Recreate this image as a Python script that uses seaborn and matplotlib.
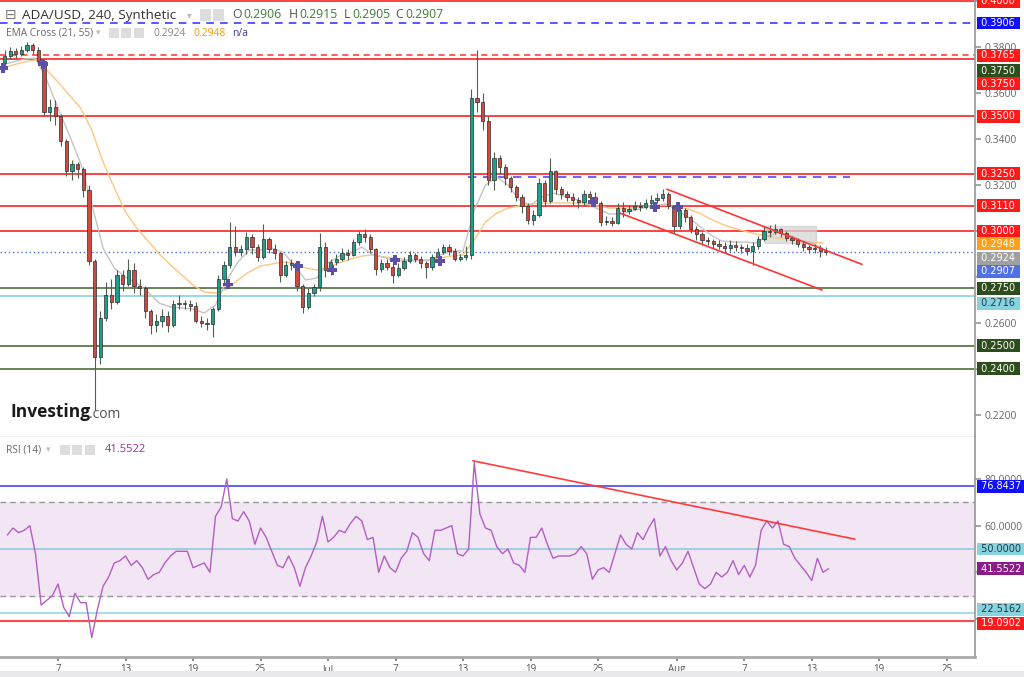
import matplotlib
matplotlib.use("Agg")
import matplotlib.pyplot as plt
import matplotlib.dates as mdates
from matplotlib.patches import Rectangle
import numpy as np
import pandas as pd
import seaborn as sns

sns.set_theme(style="white")
plt.rcParams["font.family"] = ["Open Sans", "DejaVu Sans"]

# ADA/USD, 12h bars, Jun 2 - Aug 14 2023
first_open = 0.3730
close = [
    0.3760, 0.3785, 0.3770, 0.3790, 0.3810, 0.3790, 0.3740, 0.3520, 0.3540, 0.3500, 0.3390, 0.3260, 0.3290, 0.3270,  # Jun 2-8
    0.3180, 0.2870, 0.2450, 0.2620, 0.2720, 0.2690, 0.2810, 0.2770, 0.2830, 0.2760, 0.2750, 0.2650, 0.2590, 0.2610,  # Jun 9-15
    0.2630, 0.2590, 0.2680, 0.2685, 0.2680, 0.2675, 0.2610, 0.2600, 0.2595, 0.2660, 0.2790, 0.2850, 0.2930, 0.2910,  # Jun 16-22
    0.2920, 0.2975, 0.2930, 0.2885, 0.2965, 0.2920, 0.2905, 0.2810, 0.2850, 0.2860, 0.2760, 0.2670, 0.2730, 0.2755,  # Jun 23-29
    0.2930, 0.2830, 0.2865, 0.2880, 0.2905, 0.2895, 0.2950, 0.2985, 0.2975, 0.2920, 0.2835, 0.2860, 0.2845, 0.2810,  # Jun 30-Jul 6
    0.2840, 0.2870, 0.2895, 0.2880, 0.2860, 0.2845, 0.2885, 0.2910, 0.2930, 0.2915, 0.2880, 0.2885, 0.2895, 0.3580,  # Jul 7-13
    0.3560, 0.3480, 0.3220, 0.3320, 0.3280, 0.3230, 0.3190, 0.3150, 0.3110, 0.3050, 0.3070, 0.3210, 0.3130, 0.3260,  # Jul 14-20
    0.3185, 0.3160, 0.3150, 0.3135, 0.3125, 0.3160, 0.3150, 0.3120, 0.3040, 0.3045, 0.3035, 0.3100, 0.3085, 0.3095,  # Jul 21-27
    0.3110, 0.3105, 0.3120, 0.3135, 0.3145, 0.3160, 0.3110, 0.3020, 0.3090, 0.3060, 0.3010, 0.2985, 0.2960, 0.2955,  # Jul 28-Aug 3
    0.2945, 0.2935, 0.2925, 0.2940, 0.2930, 0.2925, 0.2915, 0.2935, 0.2965, 0.3000, 0.2995, 0.3010, 0.2990, 0.2970,  # Aug 4-10
    0.2960, 0.2945, 0.2930, 0.2920, 0.2925, 0.2915, 0.2907,                                                          # Aug 11-14
]
high = [
    0.3790, 0.3800, 0.3795, 0.3805, 0.3825, 0.3820, 0.3800, 0.3750, 0.3575, 0.3570, 0.3510, 0.3400, 0.3310, 0.3300,
    0.3280, 0.3200, 0.2880, 0.2650, 0.2780, 0.2790, 0.2830, 0.2830, 0.2880, 0.2860, 0.2790, 0.2760, 0.2660, 0.2640,
    0.2660, 0.2650, 0.2700, 0.2720, 0.2700, 0.2700, 0.2690, 0.2630, 0.2620, 0.2670, 0.2810, 0.2870, 0.3040, 0.3020,
    0.2940, 0.2995, 0.2985, 0.2945, 0.3030, 0.2975, 0.2945, 0.2910, 0.2870, 0.2880, 0.2870, 0.2770, 0.2750, 0.2770,
    0.2990, 0.2950, 0.2880, 0.2900, 0.2925, 0.2920, 0.2965, 0.3000, 0.3010, 0.2985, 0.2925, 0.2880, 0.2880, 0.2875,
    0.2860, 0.2885, 0.2915, 0.2905, 0.2890, 0.2870, 0.2900, 0.2925, 0.2945, 0.2945, 0.2925, 0.2900, 0.2935, 0.3620,
    0.3790, 0.3600, 0.3500, 0.3345, 0.3330, 0.3290, 0.3240, 0.3200, 0.3160, 0.3120, 0.3090, 0.3230, 0.3220, 0.3317,
    0.3265, 0.3195, 0.3175, 0.3165, 0.3150, 0.3180, 0.3175, 0.3170, 0.3130, 0.3065, 0.3060, 0.3120, 0.3125, 0.3115,
    0.3130, 0.3125, 0.3140, 0.3155, 0.3165, 0.3185, 0.3170, 0.3115, 0.3110, 0.3100, 0.3070, 0.3020, 0.2995, 0.2975,
    0.2965, 0.2960, 0.2950, 0.2960, 0.2955, 0.2945, 0.2945, 0.2950, 0.2980, 0.3020, 0.3025, 0.3030, 0.3015, 0.3000,
    0.2980, 0.2970, 0.2955, 0.2940, 0.2945, 0.2940, 0.2930,
]
low = [
    0.3720, 0.3750, 0.3755, 0.3760, 0.3780, 0.3770, 0.3725, 0.3500, 0.3480, 0.3460, 0.3370, 0.3240, 0.3220, 0.3230,
    0.3150, 0.2850, 0.2220, 0.2420, 0.2610, 0.2660, 0.2680, 0.2740, 0.2760, 0.2730, 0.2720, 0.2620, 0.2550, 0.2560,
    0.2580, 0.2560, 0.2580, 0.2660, 0.2660, 0.2650, 0.2600, 0.2580, 0.2570, 0.2540, 0.2650, 0.2770, 0.2840, 0.2890,
    0.2890, 0.2900, 0.2900, 0.2870, 0.2880, 0.2905, 0.2880, 0.2780, 0.2800, 0.2830, 0.2740, 0.2645, 0.2660, 0.2715,
    0.2740, 0.2800, 0.2810, 0.2850, 0.2870, 0.2875, 0.2890, 0.2940, 0.2950, 0.2905, 0.2810, 0.2820, 0.2830, 0.2775,
    0.2800, 0.2830, 0.2860, 0.2865, 0.2840, 0.2795, 0.2830, 0.2880, 0.2900, 0.2895, 0.2870, 0.2870, 0.2875, 0.2880,
    0.3520, 0.3440, 0.3200, 0.3180, 0.3250, 0.3200, 0.3170, 0.3130, 0.3080, 0.3030, 0.3025, 0.3060, 0.3110, 0.3120,
    0.3160, 0.3140, 0.3130, 0.3115, 0.3100, 0.3110, 0.3130, 0.3110, 0.3020, 0.3025, 0.3020, 0.3030, 0.3060, 0.3075,
    0.3090, 0.3085, 0.3095, 0.3105, 0.3120, 0.3130, 0.3095, 0.2990, 0.3010, 0.3040, 0.2990, 0.2960, 0.2945, 0.2940,
    0.2925, 0.2920, 0.2910, 0.2915, 0.2915, 0.2905, 0.2895, 0.2852, 0.2920, 0.2955, 0.2975, 0.2985, 0.2975, 0.2955,
    0.2945, 0.2930, 0.2915, 0.2905, 0.2905, 0.2885, 0.2895,
]

# RSI(14), one reading per 12h bar close
rsi = [
    56, 59, 57, 58, 60, 48, 26, 28, 30, 35, 25, 21, 31, 27,
    27, 12, 24, 34, 38, 44, 45, 47, 43, 45, 42, 37, 39, 40,
    44, 47, 49, 49, 49, 42, 43, 44, 40, 64, 68, 80, 63, 62,
    66, 62, 52, 59, 55, 49, 43, 42, 47, 42, 34, 42, 47, 53,
    64, 53, 55, 58, 57, 61, 64, 62, 54, 55, 40, 47, 42, 40,
    46, 49, 57, 55, 48, 45, 58, 58, 59, 60, 48, 47, 50, 87,
    65, 59, 58, 51, 48, 50, 44, 43, 40, 55, 55, 59, 52, 46,
    47, 47, 47, 48, 51, 48, 37, 41, 42, 40, 48, 56, 52, 50,
    57, 54, 59, 63, 47, 51, 45, 41, 44, 49, 42, 35, 33, 35,
    40, 38, 40, 45, 39, 43, 38, 43, 58, 62, 59, 62, 52, 51,
    46, 43, 40, 36.5, 46, 40, 41.5522,
]

# EMA cross (21, 55), daily readings Jun 2 - Aug 14
ema_fast = [
    0.3723, 0.3736, 0.3749, 0.3753, 0.3657, 0.3536, 0.3418, 0.3296, 0.3117, 0.2926,
    0.2839, 0.2799, 0.2773, 0.2734, 0.2686, 0.2669, 0.2665, 0.2660, 0.2643, 0.2678,
    0.2787, 0.2865, 0.2917, 0.2917, 0.2926, 0.2908, 0.2852, 0.2787, 0.2795, 0.2861,
    0.2891, 0.2904, 0.2930, 0.2896, 0.2885, 0.2868, 0.2872, 0.2870, 0.2872, 0.2896,
    0.2913, 0.2913, 0.3091, 0.3200, 0.3235, 0.3200, 0.3135, 0.3113, 0.3148, 0.3165,
    0.3152, 0.3139, 0.3118, 0.3096, 0.3074, 0.3074, 0.3087, 0.3100, 0.3109, 0.3118,
    0.3091, 0.3061, 0.3022, 0.2983, 0.2957, 0.2952, 0.2952, 0.2948, 0.2978, 0.2991,
    0.2983, 0.2961, 0.2948, 0.2924,
]
ema_slow = [
    0.3709, 0.3723, 0.3736, 0.3745, 0.3701, 0.3649, 0.3592, 0.3536, 0.3440, 0.3301,
    0.3188, 0.3083, 0.3013, 0.2957, 0.2900, 0.2852, 0.2808, 0.2765, 0.2734, 0.2730,
    0.2747, 0.2787, 0.2822, 0.2848, 0.2856, 0.2865, 0.2861, 0.2839, 0.2830, 0.2843,
    0.2861, 0.2878, 0.2891, 0.2896, 0.2887, 0.2883, 0.2874, 0.2874, 0.2874, 0.2883,
    0.2891, 0.2896, 0.2961, 0.3039, 0.3078, 0.3100, 0.3109, 0.3117, 0.3122, 0.3122,
    0.3122, 0.3122, 0.3117, 0.3109, 0.3100, 0.3100, 0.3100, 0.3104, 0.3113, 0.3113,
    0.3104, 0.3096, 0.3078, 0.3052, 0.3030, 0.3013, 0.3000, 0.2987, 0.2978, 0.2970,
    0.2961, 0.2957, 0.2952, 0.2948,
]
cross_time = ["2023-06-02 03:00", "2023-06-05 16:00", "2023-06-22 03:00", "2023-06-28 08:00",
              "2023-07-01 09:00", "2023-07-06 23:00", "2023-07-10 23:00", "2023-07-24 13:00",
              "2023-07-30 02:00", "2023-08-01 03:00"]
cross_price = [0.3710, 0.3727, 0.2768, 0.2847, 0.2830, 0.2873, 0.2869, 0.3126, 0.3104, 0.3104]

# horizontal levels drawn on the chart
red_levels = [0.4000, 0.3750, 0.3500, 0.3250, 0.3110, 0.3000]
green_levels = [0.2750, 0.2500, 0.2400]
cyan_level = 0.2716
blue_dash_level = 0.3906
red_dash_level = 0.3765
last_price = 0.2907
mid_dash = [0.3236, "2023-07-13 10:00", "2023-08-16 10:00"]

# drawings: channel, rsi trend line, box
chan_up_t = ["2023-07-31 03:00", "2023-08-17 11:00"]
chan_up_p = [0.3182, 0.2855]
chan_dn_t = ["2023-07-26 23:00", "2023-08-13 22:00"]
chan_dn_p = [0.3078, 0.2743]
rsi_tl_t = ["2023-07-13 21:00", "2023-08-16 20:00"]
rsi_tl_v = [87.8, 54.2]
box_t = ["2023-08-08 20:00", "2023-08-13 09:00"]
box_p = [0.2947, 0.3021]

rsi_levels = [76.8437, 50.0, 22.5162, 19.0902]

tick_dates = ["2023-06-07", "2023-06-13", "2023-06-19", "2023-06-25", "2023-07-01", "2023-07-07",
              "2023-07-13", "2023-07-19", "2023-07-25", "2023-08-01", "2023-08-07", "2023-08-13",
              "2023-08-19", "2023-08-25"]
tick_labels = ["7", "13", "19", "25", "Jul", "7", "13", "19", "25", "Aug", "7", "13", "19", "25"]
price_ticks = [0.22, 0.24, 0.26, 0.28, 0.30, 0.32, 0.34, 0.36, 0.38, 0.40]
price_tick_text = ["0.2200", "", "0.2600", "", "", "0.3200", "0.3400", "0.3600", "0.3800", ""]
rsi_ticks = [20, 40, 60, 80]
rsi_tick_text = ["", "", "60.0000", "80.0000"]

# ---------- prepare ----------
assert len(close) == len(high) == len(low) == len(rsi)
close = np.array(close)
high = np.array(high)
low = np.array(low)
opens = np.r_[first_open, close[:-1]]

bar_start = pd.date_range("2023-06-02", periods=len(close), freq="12h")
x_bar = mdates.date2num(bar_start + pd.Timedelta(hours=6))
x_rsi = mdates.date2num(bar_start + pd.Timedelta(hours=12))
x_ema = mdates.date2num(pd.date_range("2023-06-02", periods=len(ema_fast), freq="D"))
d = lambda s: mdates.date2num(pd.Timestamp(s))

ema_df = pd.DataFrame({"x": x_ema, "fast": ema_fast, "slow": ema_slow})
rsi_df = pd.DataFrame({"x": x_rsi, "rsi": rsi})

x0 = d("2023-06-01 20:15")
x1 = d("2023-08-27 12:15")

W, H = 1024, 677
fx = lambda px: px / W
fy = lambda py: 1 - py / H

fig = plt.figure(figsize=(10.24, 6.77), dpi=100)
ax = fig.add_axes([0, fy(437), fx(975), 437 / H])
ax2 = fig.add_axes([0, fy(657), fx(975), 220 / H])

# ---------- price panel ----------
for lv in red_levels:
    ax.axhline(lv, color="#ff2020", lw=1.2, zorder=1)
for lv in green_levels:
    ax.axhline(lv, color="#4f6e3c", lw=1.2, zorder=1)
ax.axhline(cyan_level, color="#8fd6e0", lw=1.3, zorder=1)
ax.axhline(blue_dash_level, color="#2a2aff", lw=1.1, ls=(0, (5, 4)), zorder=1)
ax.axhline(red_dash_level, color="#ff3030", lw=1.1, ls=(0, (4, 3)), zorder=1)
ax.axhline(last_price, color="#4a6ee0", lw=1, ls=(0, (1, 2)), zorder=1)
ax.hlines(mid_dash[0], d(mid_dash[1]), d(mid_dash[2]), colors="#4a4aff", lw=1.2,
          linestyles=(0, (5, 4)), zorder=1)

ax.add_patch(Rectangle((d(box_t[0]), box_p[0]), d(box_t[1]) - d(box_t[0]), box_p[1] - box_p[0],
                       fc="#d6d6d6", ec="#cfcfcf", alpha=0.75, zorder=1))

sns.lineplot(data=ema_df, x="x", y="slow", color="#ffc680", lw=1, ax=ax, zorder=2)
sns.lineplot(data=ema_df, x="x", y="fast", color="#c4c4c4", lw=1, ax=ax, zorder=2)

up = close >= opens
body_lo = np.minimum(opens, close)
body_h = np.maximum(np.abs(close - opens), 0.0004)
ax.vlines(x_bar, low, high, color="#50604f", lw=0.8, zorder=3)
ax.bar(x_bar, body_h, bottom=body_lo, width=0.28,
       color=np.where(up, "#1f9f88", "#cf4a3e"), edgecolor="#2d2d2d", linewidth=0.5, zorder=4)

ax.plot([d(t) for t in chan_up_t], chan_up_p, color="#ff3535", lw=1.2, zorder=5)
ax.plot([d(t) for t in chan_dn_t], chan_dn_p, color="#ff3535", lw=1.2, zorder=5)

ax.scatter([d(t) for t in cross_time], cross_price, marker="P", s=55, color="#5b4fa6",
           edgecolor="none", zorder=6)

ax.set_xlim(x0, x1)
ax.set_ylim(0.2103, 0.4006)
ax.set_xlabel("")
ax.set_ylabel("")
ax.yaxis.tick_right()
ax.set_yticks(price_ticks)
ax.set_yticklabels(price_tick_text)
ax.tick_params(axis="y", right=True, length=4, color="#999999", labelsize=7.5, labelcolor="#666666", pad=3)
ax.tick_params(axis="x", bottom=False, labelbottom=False)
for s in ["top", "left"]:
    ax.spines[s].set_visible(False)
ax.spines["right"].set_color("#9a9a9a")
ax.spines["bottom"].set_color("#b8b8b8")
ax.spines["bottom"].set_linewidth(1)


def tag(axis, value, text, fc, tc="white", shift_px=0):
    axis.annotate(" " + text + " ", xy=(1, value), xycoords=("axes fraction", "data"),
                  xytext=(2.5, -shift_px * 0.72), textcoords="offset points",
                  ha="left", va="center", fontsize=7, color=tc, annotation_clip=False,
                  family=["DejaVu Sans"],
                  bbox=dict(boxstyle="square,pad=0.15", fc=fc, ec="none"), zorder=10)


tag(ax, 0.4000, "0.4000", "#ff1a1a")
tag(ax, 0.3906, "0.3906", "#1010ff")
tag(ax, 0.3765, "0.3765", "#ff1a1a")
tag(ax, 0.3750, "0.3750", "#2e4d1c", shift_px=12)
tag(ax, 0.3750, "0.3750", "#ff1a1a", shift_px=25)
tag(ax, 0.3500, "0.3500", "#ff1a1a")
tag(ax, 0.3250, "0.3250", "#ff1a1a")
tag(ax, 0.3110, "0.3110", "#ff1a1a")
tag(ax, 0.3000, "0.3000", "#ff1a1a")
tag(ax, 0.2948, "0.2948", "#ff9f1a", shift_px=1)
tag(ax, 0.2924, "0.2924", "#a0a0a0", shift_px=10)
tag(ax, 0.2907, "0.2907", "#4f72e3", shift_px=19)
tag(ax, 0.2750, "0.2750", "#2e4d1c")
tag(ax, 0.2716, "0.2716", "#86d3df", tc="#1f3a40", shift_px=7)
tag(ax, 0.2500, "0.2500", "#2e4d1c")
tag(ax, 0.2400, "0.2400", "#2e4d1c")

# ---------- RSI panel ----------
ax2.axhspan(30, 70, color="#f3e6f4", zorder=0)
ax2.axhline(70, color="#999999", lw=1, ls=(0, (4, 3)), zorder=1)
ax2.axhline(30, color="#999999", lw=1, ls=(0, (4, 3)), zorder=1)
ax2.axhline(rsi_levels[0], color="#3535ff", lw=1.1, zorder=1)
ax2.axhline(rsi_levels[1], color="#8ec6da", lw=1.1, zorder=1)
ax2.axhline(rsi_levels[2], color="#8fd3dc", lw=1.1, zorder=1)
ax2.axhline(rsi_levels[3], color="#ff4a4a", lw=1.5, zorder=1)

sns.lineplot(data=rsi_df, x="x", y="rsi", color="#b35ec3", lw=1, ax=ax2, zorder=3)
ax2.plot([d(t) for t in rsi_tl_t], rsi_tl_v, color="#ff3b3b", lw=1.2, zorder=4)

ax2.set_xlim(x0, x1)
ax2.set_ylim(3.7, 98.0)
ax2.set_xlabel("")
ax2.set_ylabel("")
ax2.yaxis.tick_right()
ax2.set_yticks(rsi_ticks)
ax2.set_yticklabels(rsi_tick_text)
ax2.tick_params(axis="y", right=True, length=4, color="#999999", labelsize=7.5, labelcolor="#666666", pad=3)
ax2.set_xticks([d(t) for t in tick_dates])
ax2.set_xticklabels(tick_labels)
ax2.tick_params(axis="x", bottom=True, length=3, color="#777777", labelsize=7, labelcolor="#555555", pad=2)
for s in ["top", "left"]:
    ax2.spines[s].set_visible(False)
ax2.spines["right"].set_color("#9a9a9a")
ax2.spines["bottom"].set_color("#aaaaaa")
ax2.spines["bottom"].set_linewidth(2)

tag(ax2, 76.8437, "76.8437", "#1010ff")
tag(ax2, 50.0, "50.0000", "#86d3df", tc="#1f3a40")
tag(ax2, 41.5522, "41.5522", "#8a1c8a")
tag(ax2, 22.5162, "22.5162", "#86d3df", tc="#1f3a40", shift_px=-4)
tag(ax2, 19.0902, "19.0902", "#ff1a1a", shift_px=2)

# ---------- header texts ----------
def icons(xs, yc, size=11):
    for xp in xs:
        fig.patches.append(Rectangle((fx(xp), fy(yc + size / 2)), size / W, size / H,
                                     transform=fig.transFigure, fc="#dddddd", ec="none"))

fig.text(fx(5), fy(15), "⊟", fontsize=10, color="#777777", va="center", family=["DejaVu Sans"])
fig.text(fx(22), fy(15), "ADA/USD, 240, Synthetic", fontsize=9.7, color="#333333", va="center")
fig.text(fx(187), fy(15), "▾", fontsize=7, color="#bbbbbb", va="center", family=["DejaVu Sans"])
icons([200, 213], 15)
for xp, txt, col in [(232, "O", "#555555"), (243, "0.2906", "#3b7d3b"), (289, "H", "#555555"),
                     (299, "0.2915", "#3b7d3b"), (344, "L", "#555555"), (352, "0.2905", "#3b7d3b"),
                     (395, "C", "#555555"), (405, "0.2907", "#3b7d3b")]:
    fig.text(fx(xp), fy(15), txt, fontsize=8.8, color=col, va="center")

fig.text(fx(6), fy(33), "EMA Cross (21, 55)", fontsize=7.3, color="#666666", va="center")
fig.text(fx(96), fy(33), "▾", fontsize=6.5, color="#bbbbbb", va="center", family=["DejaVu Sans"])
icons([109, 121, 134], 33, size=10)
fig.text(fx(154), fy(33), "0.2924", fontsize=7.5, color="#8a8a8a", va="center")
fig.text(fx(193), fy(33), "0.2948", fontsize=7.5, color="#ff9800", va="center")
fig.text(fx(232), fy(33), "n/a", fontsize=7.5, color="#3a3a9a", va="center")

fig.text(fx(6), fy(450), "RSI (14)", fontsize=7.3, color="#666666", va="center")
fig.text(fx(46), fy(450), "▾", fontsize=6.5, color="#bbbbbb", va="center", family=["DejaVu Sans"])
icons([60, 72, 85], 450, size=10)
fig.text(fx(105), fy(450), "41.5522", fontsize=8, color="#9c2f9c", va="center")

# logo
fig.text(fx(11), fy(412), "Investing", fontsize=12.5, fontweight="bold", color="#1a1a1a", va="center")
fig.text(fx(89), fy(414), ".com", fontsize=10, color="#555555", va="center")

# bottom band
fig.patches.append(Rectangle((0, 0), 1, 6 / H, transform=fig.transFigure, fc="#e8e8ec", ec="none"))

fig.savefig("out.png", dpi=100)
